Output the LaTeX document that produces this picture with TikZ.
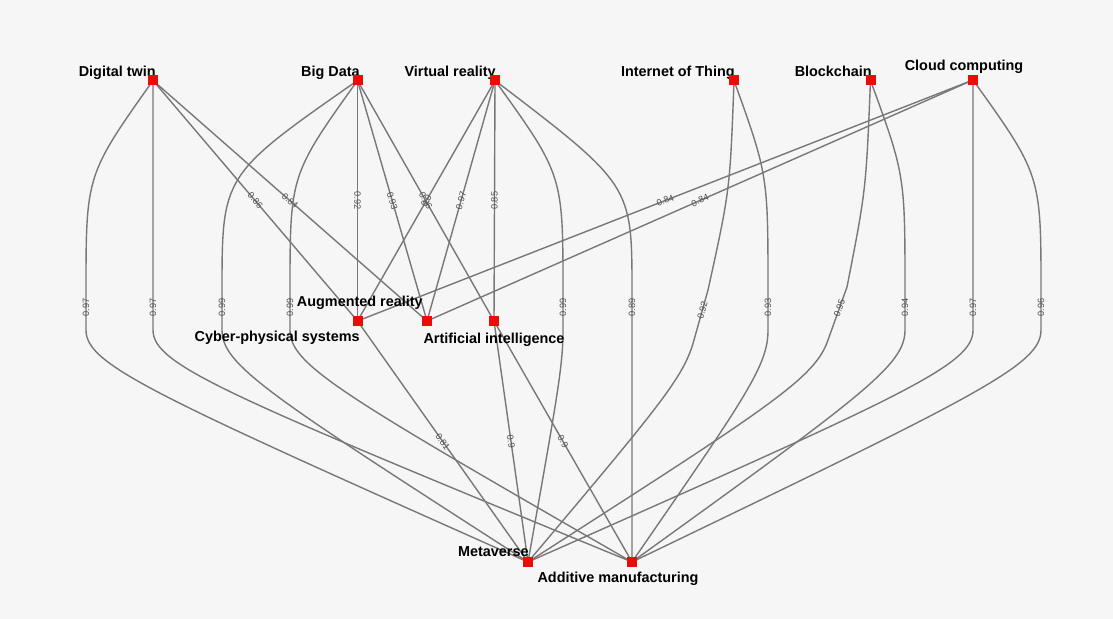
\documentclass[tikz,border=0pt]{standalone}
\usepackage{fontspec}
\setmainfont{Liberation Sans}
\usetikzlibrary{calc}
\definecolor{nodered}{RGB}{235,12,5}
\definecolor{edgegray}{RGB}{120,120,120}
\definecolor{labgray}{RGB}{80,80,80}
\definecolor{bggray}{RGB}{246,246,246}
\pgfdeclarelayer{back}
\pgfdeclarelayer{bg}
\pgfsetlayers{back,bg,main}
\begin{document}
\begin{tikzpicture}[x=0.5pt,y=-0.5pt,
  sq/.style={fill=nodered, minimum size=5pt, inner sep=0pt, draw=none},
  nlab/.style={font=\fontsize{7.2}{8}\selectfont\bfseries, text=black, inner sep=0pt},
  edge/.style={draw=edgegray, line width=0.7pt},
  wlab/.style={font=\fontsize{4.6}{5}\selectfont, text=labgray, inner sep=0.5pt, sloped},
]
\begin{pgfonlayer}{back}
\fill[bggray] (0,0) rectangle (1113,619);
\end{pgfonlayer}
\useasboundingbox (0,0) rectangle (1113,619);

% labels
\node[nlab, anchor=base east] (DTl) at (156,77) {Digital twin};
\node[nlab, anchor=base east] (BDl) at (360,77) {Big Data};
\node[nlab, anchor=base east] (VRl) at (496,77) {Virtual reality};
\node[nlab, anchor=base east] (IoTl) at (735,77) {Internet of Thing};
\node[nlab, anchor=base east] (BCl) at (872,77) {Blockchain};
\node[nlab, anchor=base] (CCl) at (964,70.5) {Cloud computing};
\node[nlab, anchor=base east] (ARl) at (423,307) {Augmented reality};
\node[nlab, anchor=base east] (CPSl) at (360,342) {Cyber-physical systems};
\node[nlab, anchor=base] (AIl) at (494,344) {Artificial intelligence};
\node[nlab, anchor=base east] (Ml) at (529,557) {Metaverse};
\node[nlab, anchor=base] (AMl) at (618,582) {Additive manufacturing};

% nodes
\node[sq] (DT) at (153,80.5) {};
\node[sq] (BD) at (357.5,80.5) {};
\node[sq] (VR) at (495,80.5) {};
\node[sq] (IoT) at (734,80.5) {};
\node[sq] (BC) at (870.5,80.5) {};
\node[sq] (CC) at (973,80) {};
\node[sq] (CPS) at (357.5,321) {};
\node[sq] (AR) at (427,321) {};
\node[sq] (AI) at (494,321) {};
\node[sq] (M) at (528,562) {};
\node[sq] (AM) at (632,562) {};

\begin{pgfonlayer}{bg}
% short edges
\draw[edge] (DT.center) -- node[wlab]{0.86} (CPS.center);
\draw[edge] (DT.center) -- node[wlab]{0.84} (AR.center);
\draw[edge] (BD.center) -- node[wlab]{0.92} (CPS.center);
\draw[edge] (BD.center) -- node[wlab]{0.93} (AR.center);
\draw[edge] (BD.center) -- node[wlab]{0.86} (AI.center);
\draw[edge] (VR.center) -- node[wlab]{0.9} (CPS.center);
\draw[edge] (VR.center) -- node[wlab]{0.97} (AR.center);
\draw[edge] (VR.center) -- node[wlab]{0.85} (AI.center);
\draw[edge] (CC.center) -- node[wlab]{0.84} (CPS.center);
\draw[edge] (CC.center) -- node[wlab]{0.84} (AR.center);
\draw[edge] (CPS.center) -- node[wlab]{0.81} (M.center);
\draw[edge] (AI.center) -- node[wlab]{0.9} (M.center);
\draw[edge] (AI.center) -- node[wlab]{0.9} (AM.center);

% long edges through the middle layer
\draw[edge] (M.center) .. controls ($(86,365)!0.15!(M.center)$) and (86,365) .. (86,330)
  -- node[wlab,pos=0.6]{0.97} (86,292) .. controls (86,175) .. (DT.center);
\draw[edge] (AM.center) .. controls ($(153,365)!0.15!(AM.center)$) and (153,365) .. (153,330)
  -- node[wlab,pos=0.6]{0.97} (153,292) -- (DT.center);
\draw[edge] (M.center) .. controls ($(222,365)!0.15!(M.center)$) and (222,365) .. (222,330)
  -- node[wlab,pos=0.6]{0.99} (222,292) .. controls (222,175) .. (BD.center);
\draw[edge] (AM.center) .. controls ($(290,365)!0.15!(AM.center)$) and (290,365) .. (290,330)
  -- node[wlab,pos=0.6]{0.99} (290,292) .. controls (290,175) .. (BD.center);
\draw[edge] (M.center) .. controls ($(563,365)!0.15!(M.center)$) and (563,365) .. (563,330)
  -- node[wlab,pos=0.6]{0.99} (563,292) .. controls (563,175) .. (VR.center);
\draw[edge] (AM.center) -- (632,330)
  -- node[wlab,pos=0.6]{0.89} (632,292) .. controls (632,185) .. (VR.center);
\draw[edge] (M.center) .. controls ($(684,377)!0.15!(M.center)$) and (684,377) .. (694,340)
  -- node[wlab,pos=0.6]{0.92} (708,290) .. controls (730,190) .. (IoT.center);
\draw[edge] (AM.center) .. controls ($(768,365)!0.15!(AM.center)$) and (768,365) .. (768,330)
  -- node[wlab,pos=0.6]{0.93} (768,292) .. controls (768,175) .. (IoT.center);
\draw[edge] (M.center) .. controls ($(815,378)!0.15!(M.center)$) and (815,378) .. (828,340)
  -- node[wlab,pos=0.6]{0.95} (847,287) .. controls (866,190) .. (BC.center);
\draw[edge] (AM.center) .. controls ($(905,365)!0.15!(AM.center)$) and (905,365) .. (905,330)
  -- node[wlab,pos=0.6]{0.94} (905,292) .. controls (905,175) .. (BC.center);
\draw[edge] (M.center) .. controls ($(973,365)!0.15!(M.center)$) and (973,365) .. (973,330)
  -- node[wlab,pos=0.6]{0.97} (973,292) -- (CC.center);
\draw[edge] (AM.center) .. controls ($(1041,365)!0.15!(AM.center)$) and (1041,365) .. (1041,330)
  -- node[wlab,pos=0.6]{0.96} (1041,292) .. controls (1041,175) .. (CC.center);
\end{pgfonlayer}
\end{tikzpicture}
\end{document}
